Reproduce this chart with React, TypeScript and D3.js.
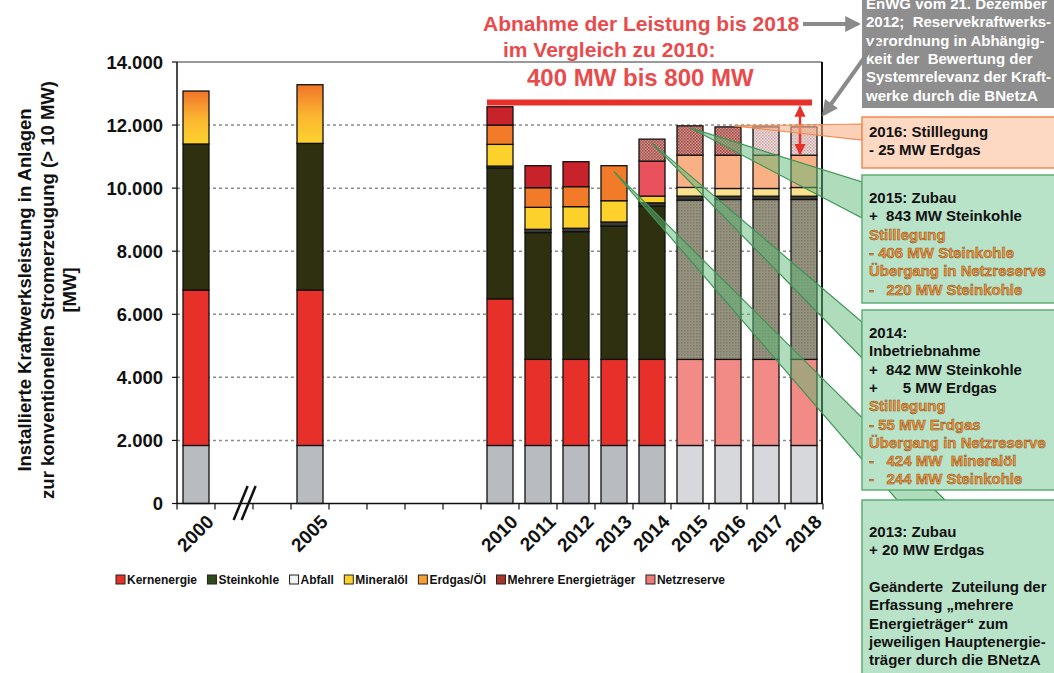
import React from 'react';
import * as d3 from 'd3';

const years = [2000, 2005, 2010, 2011, 2012, 2013, 2014, 2015, 2016, 2017, 2018];
const abfall = [1840, 1840, 1840, 1840, 1840, 1840, 1840, 1840, 1840, 1840, 1840];
const kernenergie = [4930, 4930, 4650, 2730, 2730, 2730, 2730, 2730, 2730, 2730, 2730];
const steinkohle = [4630, 4650, 4150, 4020, 4050, 4230, 4860, 5050, 5070, 5070, 5070];
const sonstige = [0, 0, 60, 105, 108, 126, 104, 127, 105, 105, 105];
const mineraloel = [0, 0, 688, 697, 685, 676, 213, 276, 244, 244, 276];
const erdgasOel = [1680, 1860, 612, 622, 634, 1110, 1110, 1024, 1056, 1056, 1024];
const mehrere = [0, 0, 581, 698, 792, 0, 0, 0, 0, 0, 0];
const netzreserve = [0, 0, 0, 0, 0, 0, 697, 929, 897, 897, 897];
const yTicks = [0, 2000, 4000, 6000, 8000, 10000, 12000, 14000];

const seriesKeys = ['abfall', 'kern', 'steinkohle', 'sonstige', 'mineraloel', 'erdgas', 'mehrere', 'netzreserve'];
const seriesValues: Record<string, number[]> = {
  abfall, kern: kernenergie, steinkohle, sonstige, mineraloel, erdgas: erdgasOel, mehrere, netzreserve,
};

const legendNames = ['Kernenergie', 'Steinkohle', 'Abfall', 'Mineralöl', 'Erdgas/Öl', 'Mehrere Energieträger', 'Netzreserve'];
const legendColors = ['#e8302a', '#2e4a1a', '#f2f2f2', '#fdd12c', '#f5a030', '#a8342a', '#ec7a7a'];

const titleLines = ['Abnahme der Leistung bis 2018', 'im Vergleich zu 2010:', '400 MW bis 800 MW'];
const grayBoxLines = ['EnWG vom 21. Dezember', '2012;  Reservekraftwerks-', 'verordnung in Abhängig-', 'keit der  Bewertung der', 'Systemrelevanz der Kraft-', 'werke durch die BNetzA'];
const box2016 = [['2016: Stilllegung', 'k'], ['- 25 MW Erdgas', 'k']];
const box2015 = [['2015: Zubau', 'k'], ['+  843 MW Steinkohle', 'k'], ['Stilllegung', 'o'], ['- 406 MW Steinkohle', 'o'], ['Übergang in Netzreserve', 'o'], ['-   220 MW Steinkohle', 'o']];
const box2014 = [['2014:', 'k'], ['Inbetriebnahme', 'k'], ['+  842 MW Steinkohle', 'k'], ['+      5 MW Erdgas', 'k'], ['Stilllegung', 'o'], ['- 55 MW Erdgas', 'o'], ['Übergang in Netzreserve', 'o'], ['-   424 MW  Mineralöl', 'o'], ['-   244 MW Steinkohle', 'o']];
const box2013 = [['2013: Zubau', 'k'], ['+ 20 MW Erdgas', 'k'], ['', 'k'], ['Geänderte  Zuteilung der', 'k'], ['Erfassung „mehrere', 'k'], ['Energieträger“ zum', 'k'], ['jeweiligen Hauptenergie-', 'k'], ['träger durch die BNetzA', 'k']];
const yLabelLines = ['Installierte Kraftwerksleistung in Anlagen', 'zur konventionellen Stromerzeugung (> 10 MW)', '[MW]'];

const FONT = 'Liberation Sans, Arial, Helvetica, sans-serif';
const W = 1054, H = 673;
const m = { left: 177, right: 823, top: 62, bottom: 503.5 };

const slotOf = (yr: number) => (yr <= 2005 ? ((yr - 2000) * 3) / 5 : yr - 2002);
const x = d3.scaleLinear().domain([-0.5, 16.5]).range([m.left, m.right]);
const y = d3.scaleLinear().domain([0, 14000]).range([m.bottom, m.top]);
const barW = 26;
const fmt = d3.formatLocale({ decimal: ',', thousands: '.', grouping: [3], currency: ['', ''] }).format(',d');

function segFill(key: string, yr: number): string {
  const reserve = yr >= 2015;
  switch (key) {
    case 'abfall': return reserve ? '#d6d8db' : '#b8bbc0';
    case 'kern': return reserve ? '#f28a85' : '#e8302a';
    case 'steinkohle': return reserve ? 'url(#pSK)' : '#2e3010';
    case 'sonstige': return '#3b3b36';
    case 'mineraloel': return reserve ? '#f9e18e' : '#fdd12c';
    case 'erdgas': return yr <= 2005 ? 'url(#gEO)' : yr === 2014 ? '#e9525d' : reserve ? '#f8b084' : '#f27b29';
    case 'mehrere': return '#c8222a';
    case 'netzreserve': return yr >= 2017 ? 'url(#pNRl)' : 'url(#pNR)';
  }
  return '#000';
}

const rows = years.map((yr, i) => {
  const r: any = { year: yr };
  seriesKeys.forEach((k) => (r[k] = seriesValues[k][i]));
  return r;
});
const stacked = d3.stack().keys(seriesKeys)(rows);
const totals = years.map((_, i) => seriesKeys.reduce((s, k) => s + seriesValues[k][i], 0));
const topOf = (yr: number) => y(totals[years.indexOf(yr)]);

let measureCtx: CanvasRenderingContext2D | null = null;
function textW(t: string, font: string) {
  if (!measureCtx) measureCtx = document.createElement('canvas').getContext('2d');
  if (!measureCtx) return t.length * 6.5;
  measureCtx.font = font;
  return measureCtx.measureText(t).width;
}

function Legend() {
  const fs = 12;
  const font = `bold ${fs}px ${FONT}`;
  const sw = 9, sg = 2;
  const widths = legendNames.map((n) => textW(n, font));
  const total = widths.reduce((a, b) => a + b, 0) + legendNames.length * (sw + sg);
  const x0 = 116, x1 = 725;
  const gap = (x1 - x0 - total) / (legendNames.length - 1);
  let cx = x0;
  const items = legendNames.map((n, i) => {
    const it = { n, x: cx, c: legendColors[i] };
    cx += sw + sg + widths[i] + gap;
    return it;
  });
  return (
    <g>
      {items.map((it) => (
        <g key={it.n}>
          <rect x={it.x} y={575} width={sw} height={sw} fill={it.c} stroke="#222" strokeWidth={1} />
          <text x={it.x + sw + sg} y={583.5} fontFamily={FONT} fontWeight="bold" fontSize={fs} fill="#111">{it.n}</text>
        </g>
      ))}
    </g>
  );
}

function Box({ x0, y0, y1, fill, stroke, lines, baseline }: any) {
  return (
    <g>
      <rect x={x0} y={y0} width={W - x0 + 5} height={y1 - y0} fill={fill} stroke={stroke} strokeWidth={1.5} />
      {lines.map((l: any, i: number) => (
        <text key={i} x={869} y={baseline + i * 18.3} fontFamily={FONT} fontWeight="bold" fontSize={15}
          fill={l[1] === 'o' ? '#ef9a40' : '#111'} stroke={l[1] === 'o' ? '#8a4a18' : 'none'} strokeWidth={l[1] === 'o' ? 0.5 : 0}
          style={{ whiteSpace: 'pre' }}>{l[0]}</text>
      ))}
    </g>
  );
}

export default function App() {
  const wedgeGreen = 'rgba(96,186,120,0.5)';
  const wedgeStroke = '#3e9455';
  const w16 = [[x(slotOf(2016)) + 6, topOf(2016) - 1], [862, 124], [862, 140]];
  const w15 = [[x(slotOf(2015)), topOf(2015) + 2], [862, 182], [862, 218]];
  const w14 = [[x(slotOf(2014)), topOf(2014) + 4], [862, 322], [862, 358]];
  const w13 = [[x(slotOf(2013)), topOf(2013) + 6], [897, 500], [945, 500]];
  const poly = (p: number[][]) => p.map((q) => q.join(',')).join(' ');
  const arrowX = x(slotOf(2018)) - 4;
  const redBarLeft = x(slotOf(2010)) - barW / 2;
  const redBarY = 102.5;
  const net18 = y(totals[10] - netzreserve[10]);

  return (
    <svg width={W} height={H} style={{ position: 'absolute', left: 0, top: 0, background: '#fff' }}>
      <defs>
        <linearGradient id="gEO" x1="0" y1="1" x2="0" y2="0">
          <stop offset="0" stopColor="#fdd22e" />
          <stop offset="0.45" stopColor="#fbb830" />
          <stop offset="1" stopColor="#f0742a" />
        </linearGradient>
        <pattern id="pSK" width="3" height="3" patternUnits="userSpaceOnUse">
          <rect width="3" height="3" fill="#959280" />
          <rect width="1.5" height="1.5" fill="#7c7a66" />
        </pattern>
        <pattern id="pNR" width="3" height="3" patternUnits="userSpaceOnUse">
          <rect width="3" height="3" fill="#d29a94" />
          <rect width="1.6" height="1.6" fill="#9e4640" />
          <rect x="1.5" y="1.5" width="1.5" height="1.5" fill="#a85048" />
        </pattern>
        <pattern id="pNRl" width="3" height="3" patternUnits="userSpaceOnUse">
          <rect width="3" height="3" fill="#eadada" />
          <rect width="1.5" height="1.5" fill="#cfa6a6" />
          <rect x="1.5" y="1.5" width="1.5" height="1.5" fill="#d8b2b2" />
        </pattern>
        <marker id="arrGray" viewBox="0 0 10 10" refX="8" refY="5" markerWidth="4" markerHeight="4" orient="auto">
          <path d="M0,0 L10,5 L0,10 z" fill="#8a8a8a" />
        </marker>
        <marker id="arrRed" viewBox="0 0 10 10" refX="9" refY="5" markerWidth="4.5" markerHeight="4.5" orient="auto-start-reverse">
          <path d="M0,0 L10,5 L0,10 z" fill="#e8302a" />
        </marker>
      </defs>

      {yTicks.filter((t) => t > 0 && t < 14000).map((t) => (
        <line key={t} x1={m.left} x2={m.right} y1={y(t)} y2={y(t)} stroke="#8c8c8c" strokeWidth={1.5} strokeDasharray="3,3" />
      ))}
      <line x1={m.left} x2={822} y1={m.top} y2={m.top} stroke="#333" strokeWidth={1} />
      <line x1={822} x2={822} y1={m.top} y2={m.bottom} stroke="#111" strokeWidth={2} />

      {stacked.map((s) => (
        <g key={s.key}>
          {s.map((d: any, i: number) => {
            const v = d[1] - d[0];
            if (v <= 0) return null;
            const yr = years[i];
            return (
              <rect key={yr} x={x(slotOf(yr)) - barW / 2} y={y(d[1])} width={barW} height={y(d[0]) - y(d[1])}
                fill={segFill(s.key as string, yr)} stroke="#111" strokeWidth={1.3} />
            );
          })}
        </g>
      ))}

      <line x1={m.left} x2={m.left} y1={m.top} y2={m.bottom} stroke="#111" strokeWidth={1.5} />
      <line x1={m.left} x2={m.right} y1={m.bottom} y2={m.bottom} stroke="#111" strokeWidth={1.5} />
      {d3.range(0, 18).map((s) => (
        <line key={s} x1={x(s - 0.5)} x2={x(s - 0.5)} y1={m.bottom} y2={m.bottom + 6} stroke="#111" strokeWidth={1.2} />
      ))}
      {yTicks.map((t) => (
        <g key={t}>
          <line x1={m.left - 5} x2={m.left} y1={y(t)} y2={y(t)} stroke="#111" strokeWidth={1.2} />
          <text x={163} y={y(t) + 6.5} textAnchor="end" fontFamily={FONT} fontWeight="bold" fontSize={18.5} fill="#111">{fmt(t)}</text>
        </g>
      ))}
      {years.map((yr) => (
        <text key={yr} transform={`translate(${x(slotOf(yr)) + 19},${523}) rotate(-45)`} textAnchor="end"
          fontFamily={FONT} fontWeight="bold" fontSize={19} fill="#111">{yr}</text>
      ))}
      <g stroke="#111" strokeWidth={2.5}>
        <line x1={x(1.28) - 11} y1={520} x2={x(1.28) + 3} y2={486} />
        <line x1={x(1.28) - 3} y1={520} x2={x(1.28) + 11} y2={486} />
      </g>

      {yLabelLines.map((l, i) => (
        <text key={i} transform={`translate(${31 + i * 22.5},290) rotate(-90)`} textAnchor="middle"
          fontFamily={FONT} fontWeight="bold" fontSize={18.5} fill="#111">{l}</text>
      ))}

      <rect x={redBarLeft} y={redBarY - 3} width={812 - redBarLeft} height={6} fill="#e8302a" />
      <line x1={arrowX} x2={arrowX} y1={redBarY + 4} y2={net18 - 1} stroke="#e8302a" strokeWidth={2.5}
        markerStart="url(#arrRed)" markerEnd="url(#arrRed)" />
      <text x={483} y={31} fontFamily={FONT} fontWeight="bold" fontSize={21} fill="#e94a4c">{titleLines[0]}</text>
      <text x={503} y={57} fontFamily={FONT} fontWeight="bold" fontSize={21} fill="#e94a4c">{titleLines[1]}</text>
      <text x={527} y={86} fontFamily={FONT} fontWeight="bold" fontSize={24} fill="#e94a4c">{titleLines[2]}</text>

      <polygon points={poly(w13)} fill={wedgeGreen} stroke={wedgeStroke} strokeWidth={1.2} />
      <polygon points={poly(w14)} fill={wedgeGreen} stroke={wedgeStroke} strokeWidth={1.2} />
      <polygon points={poly(w15)} fill={wedgeGreen} stroke={wedgeStroke} strokeWidth={1.2} />
      <polygon points={poly(w16)} fill="rgba(248,176,136,0.6)" stroke="#ef8a50" strokeWidth={1.2} />

      <rect x={862} y={-5} width={200} height={113} fill="#8e8e8e" />
      {grayBoxLines.map((l, i) => (
        <text key={i} x={866} y={9 + i * 18.3} fontFamily={FONT} fontWeight="bold" fontSize={15} fill="#fff" style={{ whiteSpace: 'pre' }}>{l}</text>
      ))}
      <line x1={803} y1={24} x2={858} y2={24} stroke="#8a8a8a" strokeWidth={4} markerEnd="url(#arrGray)" />
      <line x1={877} y1={40} x2={824} y2={114} stroke="#8a8a8a" strokeWidth={4} markerEnd="url(#arrGray)" />

      <Box x0={862} y0={117} y1={168} fill="#fdd8c3" stroke="#ef8a50" lines={box2016} baseline={137} />
      <Box x0={862} y0={175} y1={303} fill="#b9e3c9" stroke="#5fae74" lines={box2015} baseline={203} />
      <Box x0={862} y0={310} y1={490} fill="#b9e3c9" stroke="#5fae74" lines={box2014} baseline={338} />
      <Box x0={862} y0={500} y1={690} fill="#b9e3c9" stroke="#5fae74" lines={box2013} baseline={537} />

      <Legend />
    </svg>
  );
}
